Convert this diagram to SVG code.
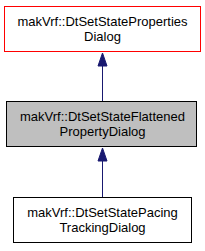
<svg xmlns="http://www.w3.org/2000/svg" width="205" height="251" viewBox="0 0 205 251">
<style>
text{font-family:"Liberation Sans",Arial,sans-serif;font-size:13px;text-anchor:middle;fill:#000}
.edge{stroke:#191970;stroke-width:1;fill:none}
.ah{fill:#191970;stroke:#191970}
</style>
<rect width="205" height="251" fill="#fff"/>
<g id="connectors">
<path class="edge" d="M102.5,101 L102.5,66"/>
<polygon class="ah" points="102.5,53 98,66 107,66"/>
<path class="edge" d="M102.5,197 L102.5,161"/>
<polygon class="ah" points="102.5,148 98,161 107,161"/>
</g>
<g id="node1">
<rect x="4.5" y="6.5" width="196" height="45" fill="#fff" stroke="#ff0000"/>
<text x="102.5" y="25.5">makVrf::DtSetStateProperties</text>
<text x="102.5" y="40.5">Dialog</text>
</g>
<g id="node2">
<rect x="6.5" y="101.5" width="190" height="45" fill="#bfbfbf" stroke="#000"/>
<text x="102.5" y="120.5">makVrf::DtSetStateFlattened</text>
<text x="102.5" y="135.5">PropertyDialog</text>
</g>
<g id="node3">
<rect x="13.5" y="197.5" width="178" height="45" fill="#fff" stroke="#000"/>
<text x="102.5" y="216.5">makVrf::DtSetStatePacing</text>
<text x="102.5" y="231.5">TrackingDialog</text>
</g>
</svg>
